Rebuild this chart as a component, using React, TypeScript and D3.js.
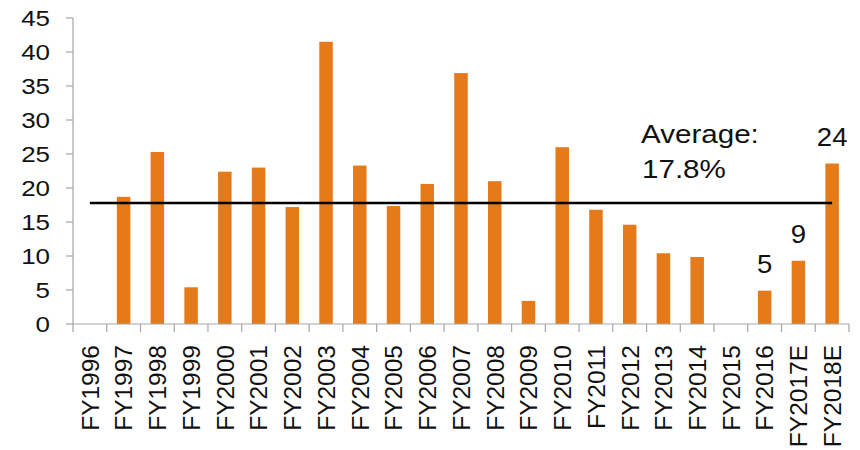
import React from "react";
import * as d3 from "d3";

// Fiscal years on the category axis
const years = [
  "FY1996", "FY1997", "FY1998", "FY1999", "FY2000", "FY2001", "FY2002", "FY2003",
  "FY2004", "FY2005", "FY2006", "FY2007", "FY2008", "FY2009", "FY2010", "FY2011",
  "FY2012", "FY2013", "FY2014", "FY2015", "FY2016", "FY2017E", "FY2018E",
];

// Annual growth values (%), one per fiscal year
const growth = [
  0, 18.7, 25.3, 5.4, 22.4, 23.0, 17.2, 41.5,
  23.3, 17.35, 20.6, 36.9, 21.0, 3.4, 26.0, 16.8,
  14.6, 10.4, 9.85, 0, 4.9, 9.3, 23.6,
];

// Years whose bars carry a value label
const labelledYears = ["FY2016", "FY2017E", "FY2018E"];

// Long-run average drawn as a reference line
const average = 17.8;

const yTicks = [0, 5, 10, 15, 20, 25, 30, 35, 40, 45];

const W = 860;
const H = 450;
const left = 73;
const right = 849;
const top = 18;
const bottom = 324;

const BAR = "#E57A1B";
const AXIS = "#A6A6A6";
const FONT = "'Liberation Sans', Arial, Helvetica, sans-serif";

export default function App() {
  const x = d3
    .scaleBand<string>()
    .domain(years)
    .range([left, right])
    .paddingInner(0.6)
    .paddingOuter(0.3);
  const y = d3.scaleLinear().domain([0, 45]).range([bottom, top]);
  const step = x.step();
  const bw = x.bandwidth();
  const center = (c: string) => (x(c) as number) + bw / 2;
  const fmt = d3.format(".0f");

  const firstC = center(years[0]);
  const lastC = center(years[years.length - 1]);

  return (
    <svg
      width={W}
      height={H}
      style={{ position: "absolute", left: 0, top: 0, background: "#fff" }}
      fontFamily={FONT}
    >
      {/* bars */}
      {years.map((c, i) => (
        <rect
          key={c}
          x={x(c)}
          y={y(growth[i])}
          width={bw}
          height={bottom - y(growth[i])}
          fill={BAR}
        />
      ))}

      {/* y axis */}
      <line x1={left} x2={left} y1={y(45)} y2={bottom} stroke={AXIS} strokeWidth={1.2} />
      {yTicks.map((t) => (
        <g key={t}>
          <line x1={left - 7} x2={left} y1={y(t)} y2={y(t)} stroke={AXIS} strokeWidth={1.2} />
          <text
            transform={`translate(50,${y(t)}) scale(1.18,1)`}
            textAnchor="end"
            dy="0.36em"
            fontSize={22}
            fill="#111"
          >
            {t}
          </text>
        </g>
      ))}

      {/* x axis */}
      <line x1={left} x2={right} y1={bottom} y2={bottom} stroke={AXIS} strokeWidth={1.2} />
      {d3.range(years.length + 1).map((i) => (
        <line
          key={i}
          x1={left + i * step}
          x2={left + i * step}
          y1={bottom}
          y2={bottom + 8}
          stroke={AXIS}
          strokeWidth={1.2}
        />
      ))}
      {years.map((c) => (
        <text
          key={c}
          transform={`translate(${center(c)},345) rotate(-90)`}
          textAnchor="end"
          dy="0.36em"
          fontSize={24.5}
          fill="#111"
        >
          {c}
        </text>
      ))}

      {/* average line */}
      <line
        x1={firstC}
        x2={lastC}
        y1={y(average)}
        y2={y(average)}
        stroke="#000"
        strokeWidth={2.4}
      />
      <text transform="translate(641,143) scale(1.16,1)" fontSize={25.5} fill="#111">
        Average:
      </text>
      <text transform="translate(642,178) scale(1.16,1)" fontSize={25.5} fill="#111">
        {`${average.toFixed(1)}%`}
      </text>

      {/* value labels */}
      {labelledYears.map((c) => {
        const v = growth[years.indexOf(c)];
        return (
          <text
            key={c}
            transform={`translate(${center(c)},${y(v) - 17.5}) scale(1.08,1)`}
            textAnchor="middle"
            fontSize={25.5}
            fill="#111"
          >
            {fmt(v)}
          </text>
        );
      })}
    </svg>
  );
}
